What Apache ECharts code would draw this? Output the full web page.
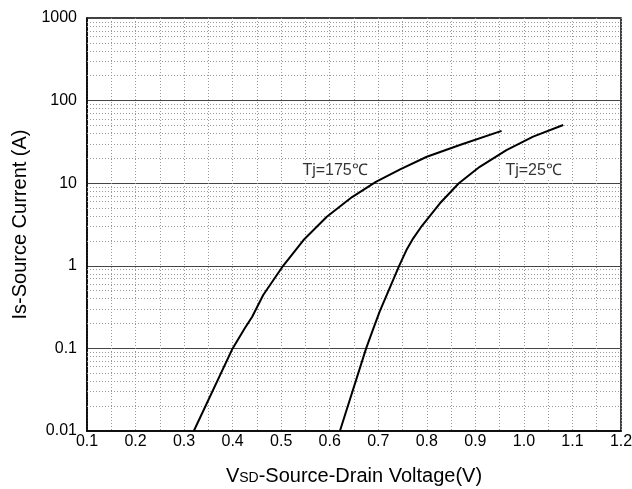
<!DOCTYPE html>
<html>
<head>
<meta charset="utf-8">
<script src="https://cdn.jsdelivr.net/npm/echarts@6/dist/echarts.min.js"></script>
<style>
  html, body { margin: 0; padding: 0; background: #fff; }
  #chart { width: 632px; height: 489px; }
</style>
</head>
<body>
<div id="chart"></div>
<script>
// Tj = 175 C curve
var vsd175 = [0.32, 0.40, 0.425, 0.44, 0.463, 0.504, 0.546, 0.594, 0.646, 0.695, 0.745, 0.80, 0.868, 0.954];
var is175  = [0.01, 0.1, 0.175, 0.24, 0.443, 1.0, 2.05, 3.93, 6.8, 10.4, 14.7, 20.9, 29, 43];
// Tj = 25 C curve
var vsd25 = [0.621, 0.675, 0.690, 0.703, 0.743, 0.758, 0.772, 0.790, 0.827, 0.866, 0.909, 0.964, 1.019, 1.081];
var is25  = [0.01, 0.1, 0.175, 0.28, 1.0, 1.55, 2.15, 3.05, 5.71, 10, 15.8, 25.2, 36.6, 50.7];

var yDecades = [0.01, 0.1, 1, 10, 100];
var yMultiples = [2, 3, 4, 5, 6, 7, 8, 9];
var curveLabels = ['Tj=175\u2103', 'Tj=25\u2103'];
var labelPos = [[0.611, 14.4], [1.02, 14.4]];

var FONT = 'Liberation Sans';

function pairs(xs, ys) {
  var out = [];
  for (var i = 0; i < xs.length; i++) out.push([xs[i], ys[i]]);
  return out;
}

var minorLines = [];
yDecades.forEach(function (d) {
  yMultiples.forEach(function (m) {
    minorLines.push({ yAxis: +(m * d).toPrecision(3) });
  });
});

var dotted = { color: '#999', type: [1, 2], width: 1 };

var chart = echarts.init(document.getElementById('chart'));
chart.setOption({
  animation: false,
  backgroundColor: '#fff',
  grid: {
    left: 87, right: 11, top: 18, bottom: 58,
    containLabel: false,
    outerBoundsMode: 'none',
    show: true, borderColor: '#000', borderWidth: 1.5, backgroundColor: 'transparent'
  },
  xAxis: {
    type: 'value',
    min: 0.1, max: 1.2, interval: 0.1,
    name: 'V{s|SD}-Source-Drain Voltage(V)',
    nameLocation: 'middle',
    nameGap: 35,
    nameTextStyle: {
      fontFamily: FONT, fontSize: 20, color: '#000',
      rich: { s: { fontFamily: FONT, fontSize: 14, color: '#000', padding: [4, 0, 0, 0] } }
    },
    axisLine: { show: true, lineStyle: { color: '#000', width: 1.5 } },
    axisTick: { show: false },
    axisLabel: {
      fontFamily: FONT, fontSize: 16, color: '#000', margin: 3,
      formatter: function (v) { return v.toFixed(1); }
    },
    splitLine: { show: true, lineStyle: dotted },
    minorTick: { show: false, splitNumber: 2 },
    minorSplitLine: { show: true, lineStyle: dotted }
  },
  yAxis: {
    type: 'log',
    logBase: 10,
    min: 0.01, max: 1000,
    name: 'Is-Source Current (A)',
    nameLocation: 'middle',
    nameGap: 54,
    nameTextStyle: { fontFamily: FONT, fontSize: 20, color: '#000' },
    axisLine: { show: true, lineStyle: { color: '#000', width: 1.5 } },
    axisTick: { show: false },
    axisLabel: {
      fontFamily: FONT, fontSize: 16, color: '#000', margin: 10,
      formatter: function (v) { return String(+v.toPrecision(3)); }
    },
    splitLine: { show: true, lineStyle: { color: '#444', type: 'solid', width: 1 } }
  },
  series: [
    {
      type: 'line',
      data: pairs(vsd175, is175),
      smooth: false,
      symbol: 'none',
      lineStyle: { color: '#000', width: 2, join: 'round' },
      markLine: {
        silent: true,
        symbol: 'none',
        label: { show: false },
        lineStyle: dotted,
        data: minorLines,
        z: 1
      },
      z: 5
    },
    {
      type: 'line',
      data: pairs(vsd25, is25),
      smooth: false,
      symbol: 'none',
      lineStyle: { color: '#000', width: 2, join: 'round' },
      z: 5
    },
    {
      type: 'scatter',
      symbolSize: 0,
      data: labelPos.map(function (p, i) { return { value: p, name: curveLabels[i] }; }),
      label: {
        show: true, position: 'inside',
        formatter: function (p) { return p.name; },
        fontFamily: FONT, fontSize: 16, color: '#000',
        backgroundColor: '#fff', padding: [1, 2]
      },
      z: 6
    }
  ]
});
</script>
</body>
</html>
